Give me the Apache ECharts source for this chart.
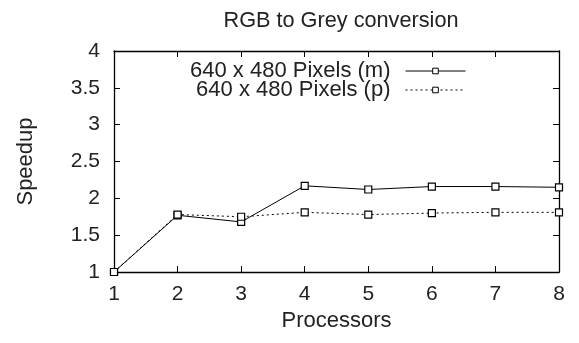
<!DOCTYPE html>
<html>
<head>
<meta charset="utf-8">
<script src="https://cdn.jsdelivr.net/npm/echarts@6/dist/echarts.min.js"></script>
<style>
  html, body { margin: 0; padding: 0; background: #fff; }
  #chart { width: 579px; height: 343px; }
</style>
</head>
<body>
<div id="chart"></div>
<script>
// Speedup of RGB to grey conversion versus number of processors
const processors = [1, 2, 3, 4, 5, 6, 7, 8];
const speedupM = [1.00, 1.77, 1.68, 2.17, 2.12, 2.16, 2.16, 2.15];
const speedupP = [1.00, 1.78, 1.75, 1.81, 1.78, 1.80, 1.81, 1.81];
const seriesNames = ['640 x 480 Pixels (m)', '640 x 480 Pixels (p)'];

const FONT = 'Liberation Sans';
const INK = '#222';
const chart = echarts.init(document.getElementById('chart'), null, { renderer: 'canvas' });

const tickStyle = { show: true, inside: true, length: 6, lineStyle: { color: '#000', width: 1 } };
const axisLine = { show: true, lineStyle: { color: '#000', width: 1.3 } };

function pairs(ys) { return processors.map((x, i) => [x, ys[i]]); }

chart.setOption({
  animation: false,
  backgroundColor: '#fff',
  title: {
    text: 'RGB to Grey conversion',
    left: 336, top: 5, textAlign: 'center',
    textStyle: { fontFamily: FONT, fontSize: 21.7, fontWeight: 'normal', color: INK }
  },
  grid: { left: 114, right: 20, top: 51, bottom: 71 },
  legend: {
    right: 108, top: 55,
    orient: 'vertical',
    align: 'right',
    itemWidth: 60, itemHeight: 7, itemGap: -3,
    lineStyle: { width: 1 },
    itemStyle: { borderWidth: 1 },
    textStyle: { fontFamily: FONT, fontSize: 22, color: INK, padding: [0, 10, 0, 0] },
    data: seriesNames
  },
  xAxis: [{
    type: 'value', min: 1, max: 8, interval: 1,
    name: 'Processors', nameLocation: 'middle', nameGap: 38,
    nameTextStyle: { fontFamily: FONT, fontSize: 22, color: INK },
    axisLine, axisTick: tickStyle, splitLine: { show: false },
    axisLabel: { fontFamily: FONT, fontSize: 21, color: INK, margin: 12 }
  }, {
    type: 'value', min: 1, max: 8, interval: 1, position: 'top',
    axisLine, axisTick: tickStyle, splitLine: { show: false }, axisLabel: { show: false }
  }],
  yAxis: [{
    type: 'value', min: 1, max: 4, interval: 0.5,
    name: 'Speedup', nameLocation: 'middle', nameGap: 77, nameRotate: 90,
    nameTextStyle: { fontFamily: FONT, fontSize: 22, color: INK },
    axisLine, axisTick: tickStyle, splitLine: { show: false },
    axisLabel: { fontFamily: FONT, fontSize: 21, color: INK, margin: 14,
      formatter: v => String(v) }
  }, {
    type: 'value', min: 1, max: 4, interval: 0.5, position: 'right',
    axisLine, axisTick: tickStyle, splitLine: { show: false }, axisLabel: { show: false }
  }],
  series: [{
    name: seriesNames[0], type: 'line', data: pairs(speedupM),
    symbol: 'rect', symbolSize: 7, showSymbol: true,
    itemStyle: { color: '#fff', borderColor: '#000', borderWidth: 1.2 },
    lineStyle: { color: '#000', width: 1, type: 'solid' }
  }, {
    name: seriesNames[1], type: 'line', data: pairs(speedupP),
    symbol: 'rect', symbolSize: 7, showSymbol: true,
    itemStyle: { color: '#fff', borderColor: '#000', borderWidth: 1.2 },
    lineStyle: { color: '#000', width: 1, type: [2, 3] }
  }]
});
</script>
</body>
</html>
